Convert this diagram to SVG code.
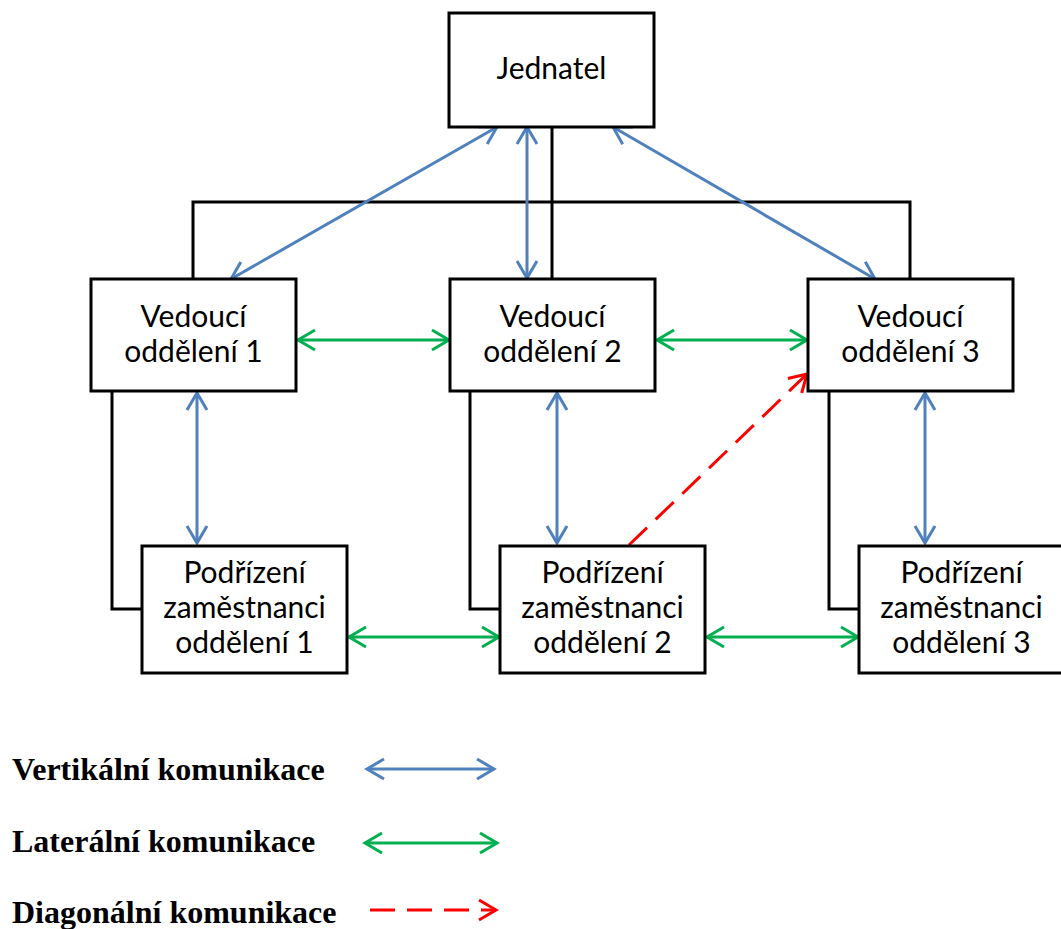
<svg xmlns="http://www.w3.org/2000/svg" width="1061" height="929" viewBox="0 0 1061 929">
<style>
.box{fill:#fff;stroke:#000;stroke-width:3}
.tree{fill:none;stroke:#000;stroke-width:3}
.lbl{font-family:Lato,"Open Sans",sans-serif;font-size:30px;fill:#000;text-anchor:middle}
.leg{font-family:"Liberation Serif","Times New Roman",serif;font-weight:bold;font-size:32px;fill:#000}
.v{stroke:#4F81BD;stroke-width:3;fill:none;marker-start:url(#ab);marker-end:url(#ab)}
.l{stroke:#00B050;stroke-width:3;fill:none;marker-start:url(#ag);marker-end:url(#ag)}
.d{stroke:#FF0000;stroke-width:3;fill:none;stroke-dasharray:25 12;marker-end:url(#ar)}
</style>
<defs>
<marker id="ab" viewBox="-20 -12 23 24" refX="0" refY="0" markerWidth="23" markerHeight="24" markerUnits="userSpaceOnUse" orient="auto-start-reverse"><path d="M-17,-10 L0,0 L-17,10" fill="none" stroke="#4F81BD" stroke-width="3"/></marker>
<marker id="ag" viewBox="-20 -12 23 24" refX="0" refY="0" markerWidth="23" markerHeight="24" markerUnits="userSpaceOnUse" orient="auto-start-reverse"><path d="M-17,-10 L0,0 L-17,10" fill="none" stroke="#00B050" stroke-width="3"/></marker>
<marker id="ar" viewBox="-20 -12 23 24" refX="0" refY="0" markerWidth="23" markerHeight="24" markerUnits="userSpaceOnUse" orient="auto"><path d="M-17,-10 L0,0 L-17,10" fill="none" stroke="#FF0000" stroke-width="3" stroke-dasharray="none"/></marker>
</defs>
<rect width="1061" height="929" fill="#fff"/>
<g id="connectors">
<path class="tree" d="M552,127 V279 M193,279 V202 H910 V279 M112,391 V609 H142 M470,391 V609 H500 M829,391 V609 H859"/>
<line class="v" x1="497" y1="127" x2="231" y2="279"/>
<line class="v" x1="527" y1="127" x2="527" y2="278"/>
<line class="v" x1="613" y1="127" x2="875" y2="279"/>
<line class="v" x1="197" y1="393" x2="197" y2="543"/>
<line class="v" x1="557" y1="393" x2="557" y2="543"/>
<line class="v" x1="925" y1="393" x2="925" y2="543"/>
<line class="l" x1="298" y1="340" x2="449" y2="340"/>
<line class="l" x1="657" y1="340" x2="807" y2="340"/>
<line class="l" x1="349" y1="637" x2="499" y2="637"/>
<line class="l" x1="707" y1="637" x2="858" y2="637"/>
<line class="d" x1="629" y1="545" x2="807" y2="374"/>
</g>
<g id="jednatel"><rect class="box" x="449" y="13" width="205" height="114"/><text class="lbl" x="551.5" y="79">Jednatel</text></g>
<g id="vedouci1"><rect class="box" x="91" y="279" width="205" height="112"/><text class="lbl" x="193.5" y="327">Vedoucí</text><text class="lbl" x="193.5" y="362">oddělení 1</text></g>
<g id="vedouci2"><rect class="box" x="450" y="279" width="205" height="112"/><text class="lbl" x="552.5" y="327">Vedoucí</text><text class="lbl" x="552.5" y="362">oddělení 2</text></g>
<g id="vedouci3"><rect class="box" x="808" y="279" width="205" height="112"/><text class="lbl" x="910.5" y="327">Vedoucí</text><text class="lbl" x="910.5" y="362">oddělení 3</text></g>
<g id="podrizeni1"><rect class="box" x="142" y="546" width="205" height="127"/><text class="lbl" x="244.5" y="583">Podřízení</text><text class="lbl" x="244.5" y="618">zaměstnanci</text><text class="lbl" x="244.5" y="653">oddělení 1</text></g>
<g id="podrizeni2"><rect class="box" x="500" y="546" width="205" height="127"/><text class="lbl" x="602.5" y="583">Podřízení</text><text class="lbl" x="602.5" y="618">zaměstnanci</text><text class="lbl" x="602.5" y="653">oddělení 2</text></g>
<g id="podrizeni3"><rect class="box" x="859" y="546" width="205" height="127"/><text class="lbl" x="961.5" y="583">Podřízení</text><text class="lbl" x="961.5" y="618">zaměstnanci</text><text class="lbl" x="961.5" y="653">oddělení 3</text></g>
<g id="legend">
<text class="leg" x="12" y="780">Vertikální komunikace</text>
<text class="leg" x="12" y="852">Laterální komunikace</text>
<text class="leg" x="12" y="923">Diagonální komunikace</text>
<line class="v" x1="367" y1="769" x2="494" y2="769"/>
<line class="l" x1="365" y1="843" x2="497" y2="843"/>
<line class="d" x1="370" y1="910" x2="496" y2="910"/>
</g>
</svg>
